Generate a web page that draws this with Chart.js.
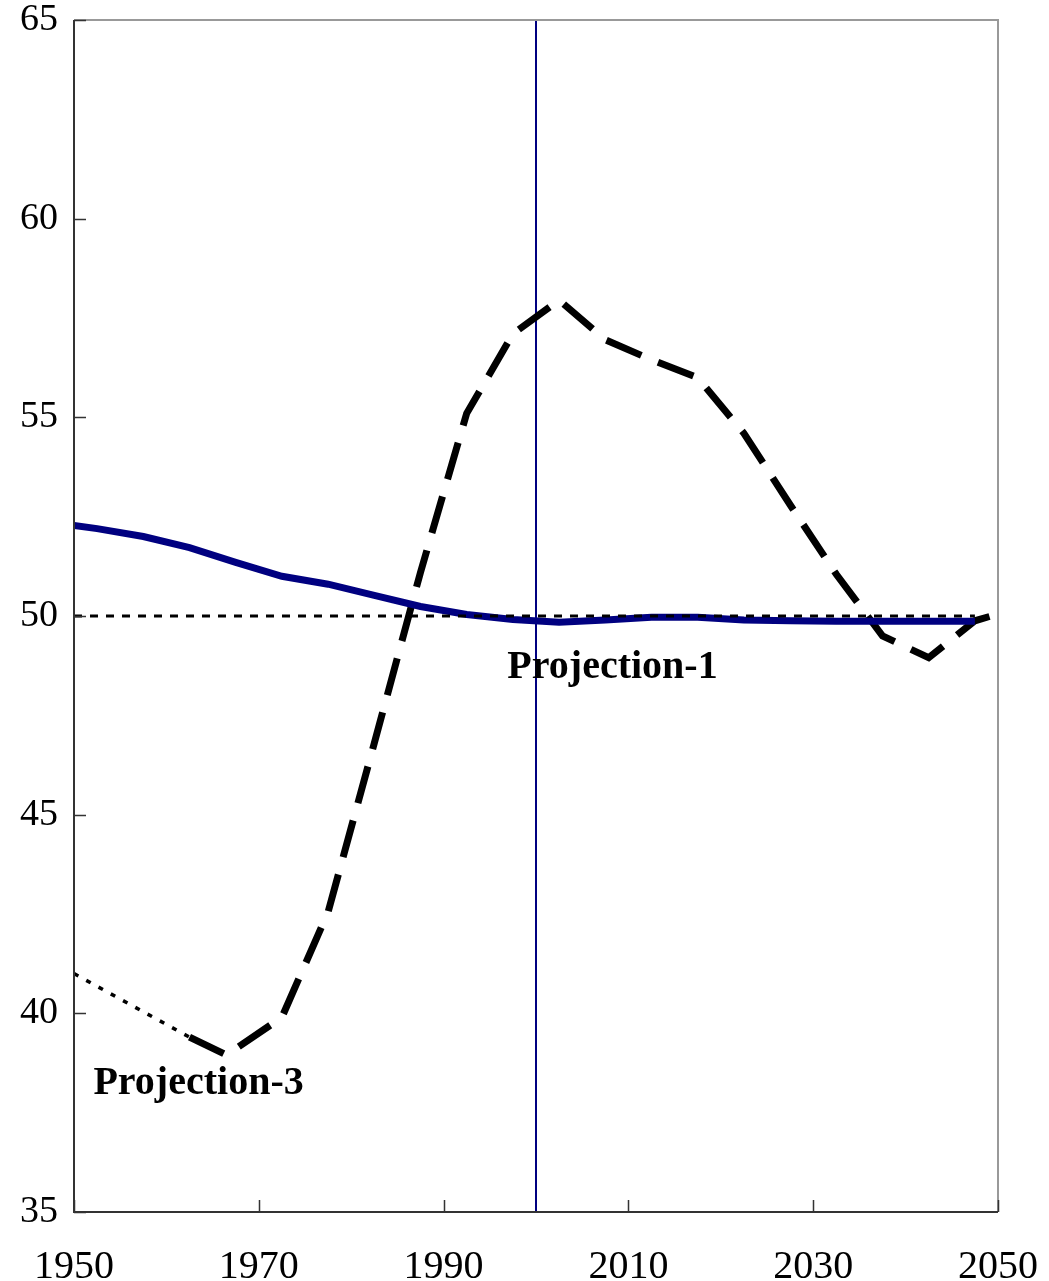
<!DOCTYPE html>
<html>
<head>
<meta charset="utf-8">
<script src="https://cdn.jsdelivr.net/npm/chart.js@4.4.1/dist/chart.umd.min.js"></script>
<style>
  html, body { margin: 0; padding: 0; background: #fff; }
  #wrap { width: 1049px; height: 1281px; }
</style>
</head>
<body>
<div id="wrap"><canvas id="ratio"></canvas></div>
<script>
{
  const ctx = document.getElementById('ratio').getContext('2d');

  // five-year period midpoints
  const blueYears = [1950, 1952.5, 1957.5, 1962.5, 1967.5, 1972.5, 1977.5, 1982.5, 1987.5, 1992.5, 1997.5,
    2002.5, 2007.5, 2012.5, 2017.5, 2022.5, 2027.5, 2032.5, 2037.5, 2042.5, 2047.5];
  const blueValues = [52.28, 52.2, 52.0, 51.72, 51.35, 51.0, 50.8, 50.52, 50.24, 50.04, 49.91,
    49.84, 49.9, 49.97, 49.97, 49.9, 49.88, 49.87, 49.87, 49.87, 49.87];

  const proj3EarlyYears = [1950, 1962.5];
  const proj3EarlyValues = [41.0, 39.4];

  const proj3Years = [1962.5, 1966.5, 1972.5, 1977.5, 1982.5, 1987.5, 1992.5, 1997.5, 2002.5,
    2007.5, 2012.5, 2017.5, 2022.5, 2027.5, 2032.5, 2037.5, 2042.5, 2047.5, 2050];
  const proj3Values = [39.4, 38.95, 39.9, 42.55, 46.8, 51.1, 55.1, 57.1, 57.95,
    56.95, 56.45, 56.0, 54.6, 52.8, 51.05, 49.5, 48.95, 49.88, 50.05];

  const refYears = [1950, 2047.5];
  const refValues = [50, 50];

  const markerYear = 2000;

  const xTicks = [1950, 1970, 1990, 2010, 2030, 2050];
  const yTicks = [35, 40, 45, 50, 55, 60, 65];

  const notes = [
    { text: 'Projection-1', year: 1996.9, value: 48.45 },
    { text: 'Projection-3', year: 1952.1, value: 37.97 }
  ];

  const pts = (xs, ys) => xs.map((x, i) => ({ x: x, y: ys[i] }));

  const datasets = [
    {
      label: 'reference',
      data: pts(refYears, refValues),
      borderColor: '#000',
      borderWidth: 3,
      borderDash: [8, 8]
    },
    {
      label: 'Projection-3 (early)',
      data: pts(proj3EarlyYears, proj3EarlyValues),
      borderColor: '#000',
      borderWidth: 3.5,
      borderDash: [5, 9]
    },
    {
      label: 'Projection-1',
      data: pts(blueYears, blueValues),
      borderColor: '#000080',
      borderWidth: 7
    },
    {
      label: 'Projection-3',
      data: pts(proj3Years, proj3Values),
      borderColor: '#000',
      borderWidth: 7,
      borderDash: [38, 18],
      borderJoinStyle: 'miter'
    },
    {
      label: 'marker',
      data: [{ x: markerYear, y: 35 }, { x: markerYear, y: 65 }],
      borderColor: '#000080',
      borderWidth: 2
    }
  ];

  const frame = {
    id: 'frame',
    afterDraw(chart) {
      const c = chart.ctx;
      const a = chart.chartArea;
      const xs = chart.scales.x, ys = chart.scales.y;
      c.save();
      c.lineWidth = 2;
      c.strokeStyle = '#999';
      c.beginPath();
      c.moveTo(a.left, a.top); c.lineTo(a.right, a.top); c.lineTo(a.right, a.bottom);
      c.stroke();
      c.strokeStyle = '#333';
      c.beginPath();
      c.moveTo(a.left, a.top); c.lineTo(a.left, a.bottom); c.lineTo(a.right, a.bottom);
      c.stroke();
      c.lineWidth = 1.5;
      c.beginPath();
      yTicks.forEach(v => {
        const y = Math.round(ys.getPixelForValue(v)) + 0.5;
        c.moveTo(a.left, y); c.lineTo(a.left + 12, y);
      });
      xTicks.forEach(v => {
        const x = Math.round(xs.getPixelForValue(v)) + 0.5;
        c.moveTo(x, a.bottom); c.lineTo(x, a.bottom - 12);
      });
      c.stroke();
      c.fillStyle = '#000';
      c.font = 'bold 40px "Liberation Serif"';
      c.textAlign = 'left';
      c.textBaseline = 'alphabetic';
      notes.forEach(n => {
        c.fillText(n.text, xs.getPixelForValue(n.year), ys.getPixelForValue(n.value));
      });
      c.restore();
    }
  };

  const config = {
    type: 'line',
    data: { datasets: datasets },
    options: {
      responsive: true,
      maintainAspectRatio: false,
      animation: false,
      layout: { padding: { top: 20, right: 51, left: 0, bottom: 0 } },
      elements: { point: { radius: 0 }, line: { tension: 0, borderCapStyle: 'butt' } },
      plugins: { legend: { display: false }, tooltip: { enabled: false } },
      scales: {
        x: {
          type: 'linear',
          min: 1950,
          max: 2050,
          afterBuildTicks: s => { s.ticks = xTicks.map(v => ({ value: v })); },
          afterFit: s => { s.height = 69; s.paddingLeft = 0; s.paddingRight = 0; },
          grid: { display: false, drawTicks: false },
          border: { display: false },
          ticks: {
            color: '#000', padding: 31, font: { family: 'Liberation Serif', size: 40 },
            callback: v => String(v)
          }
        },
        y: {
          min: 35,
          max: 65,
          afterBuildTicks: s => { s.ticks = yTicks.map(v => ({ value: v })); },
          afterFit: s => { s.width = 74; s.paddingTop = 0; s.paddingBottom = 0; },
          grid: { display: false, drawTicks: false },
          border: { display: false },
          ticks: {
            color: '#000', padding: 16, font: { family: 'Liberation Serif', size: 38 },
            callback: v => String(v)
          }
        }
      }
    },
    plugins: [frame]
  };

  var ratio = new Chart(ctx, config);
}
</script>
</body>
</html>
